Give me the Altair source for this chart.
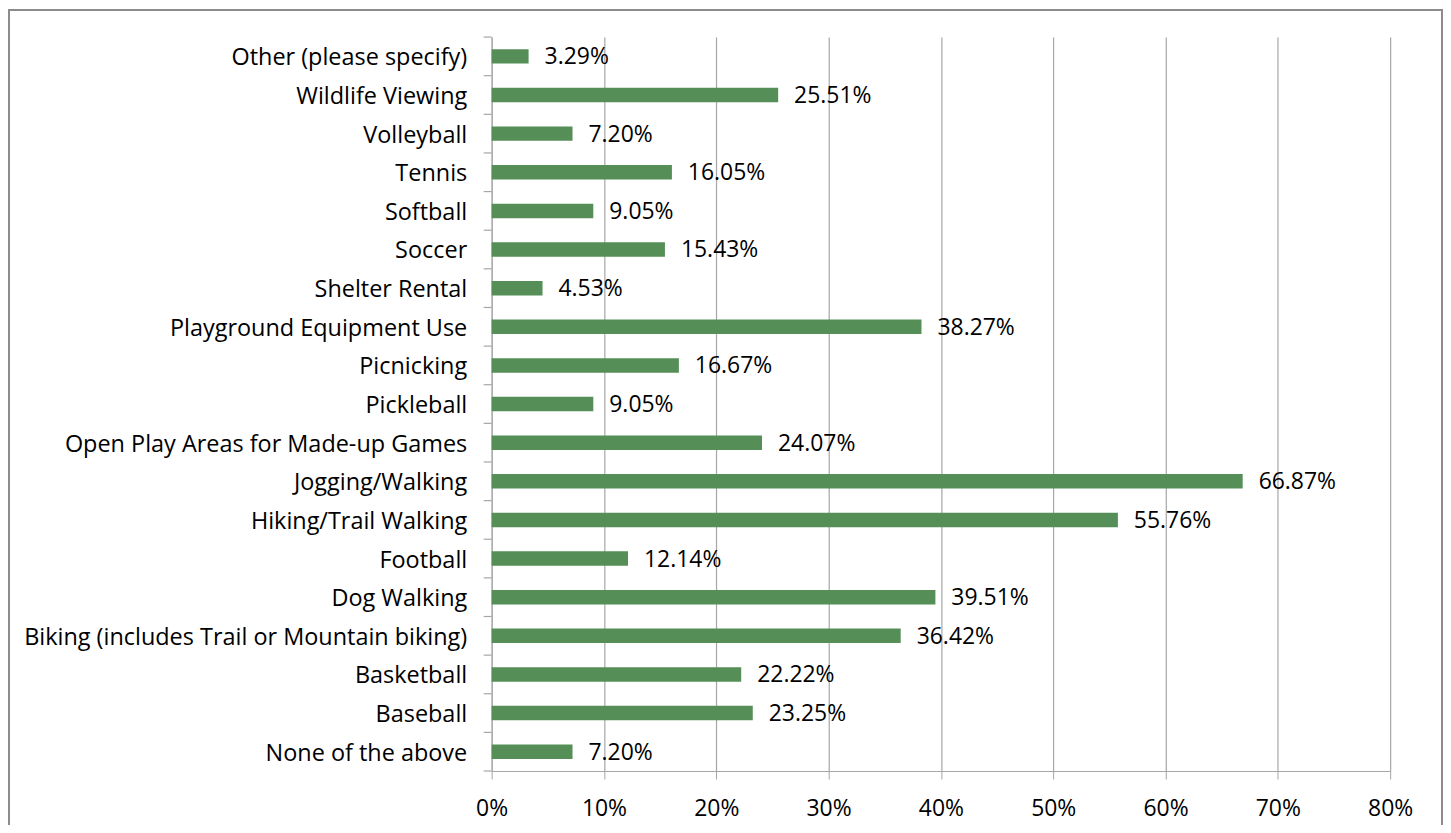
import altair as alt
import pandas as pd

categories = [
    "Other (please specify)",
    "Wildlife Viewing",
    "Volleyball",
    "Tennis",
    "Softball",
    "Soccer",
    "Shelter Rental",
    "Playground Equipment Use",
    "Picnicking",
    "Pickleball",
    "Open Play Areas for Made-up Games",
    "Jogging/Walking",
    "Hiking/Trail Walking",
    "Football",
    "Dog Walking",
    "Biking (includes Trail or Mountain biking)",
    "Basketball",
    "Baseball",
    "None of the above",
]
values = [3.29, 25.51, 7.20, 16.05, 9.05, 15.43, 4.53, 38.27, 16.67, 9.05,
          24.07, 66.87, 55.76, 12.14, 39.51, 36.42, 22.22, 23.25, 7.20]
labels = [f"{v:.2f}%" for v in values]
boundaries = list(range(len(categories) + 1))

df = pd.DataFrame({"cat": categories, "val": [v / 100 for v in values], "label": labels})
df_b = pd.DataFrame({"b": boundaries})

FONT = "Open Sans"
FS_Y = 23.5
FS = 23
W, H = 901, 736
GRAY = "#a6a6a6"

y_enc = alt.Y("cat:N", sort=categories, title=None,
              scale=alt.Scale(paddingInner=0.625, paddingOuter=0.3125),
              axis=alt.Axis(ticks=False, domainColor=GRAY, labelPadding=25,
                            labelOffset=2,
                            labelFontSize=FS_Y, labelFont=FONT, labelColor="#000000",
                            labelLimit=600, grid=False))
x_enc = alt.X("val:Q", title=None,
              scale=alt.Scale(domain=[0, 0.8], nice=False),
              axis=alt.Axis(format=".0%", values=[0, 0.1, 0.2, 0.3, 0.4, 0.5, 0.6, 0.7, 0.8],
                            tickSize=8, tickColor=GRAY, domainColor=GRAY,
                            grid=True, gridColor=GRAY, gridWidth=1.2,
                            labelFontSize=FS, labelFont=FONT, labelColor="#000000",
                            labelPadding=19, labelFlush=False))

bars = alt.Chart(df).mark_bar(color="#558F57").encode(x=x_enc, y=y_enc)

text = alt.Chart(df).mark_text(align="left", baseline="middle", dx=16, dy=1,
                               fontSize=FS, font=FONT, color="#000000").encode(
    x=alt.X("val:Q"), y=alt.Y("cat:N", sort=categories), text="label:N")

main = alt.layer(bars, text)

yticks = alt.Chart(df_b).mark_rule(color=GRAY, strokeWidth=1.2).encode(
    y=alt.Y("b:Q", scale=alt.Scale(domain=[0, len(categories)], nice=False, zero=True), axis=None),
    x=alt.value(-8), x2=alt.value(0))

border = alt.Chart(df).mark_rect(fill=None, stroke="#8c8c8c", strokeWidth=1.5, clip=False).encode(
    x=alt.value(-484), x2=alt.value(953), y=alt.value(-27), y2=alt.value(840))

chart = alt.layer(main, yticks, border).resolve_scale(y="independent").properties(
    width=W, height=H,
    autosize=alt.AutoSizeParams(type="none"),
    padding={"left": 485, "top": 28, "right": 53, "bottom": 53},
    background="white",
).configure_view(stroke=None)

chart.save("out.html", embed_options={"renderer": "svg", "actions": False})
